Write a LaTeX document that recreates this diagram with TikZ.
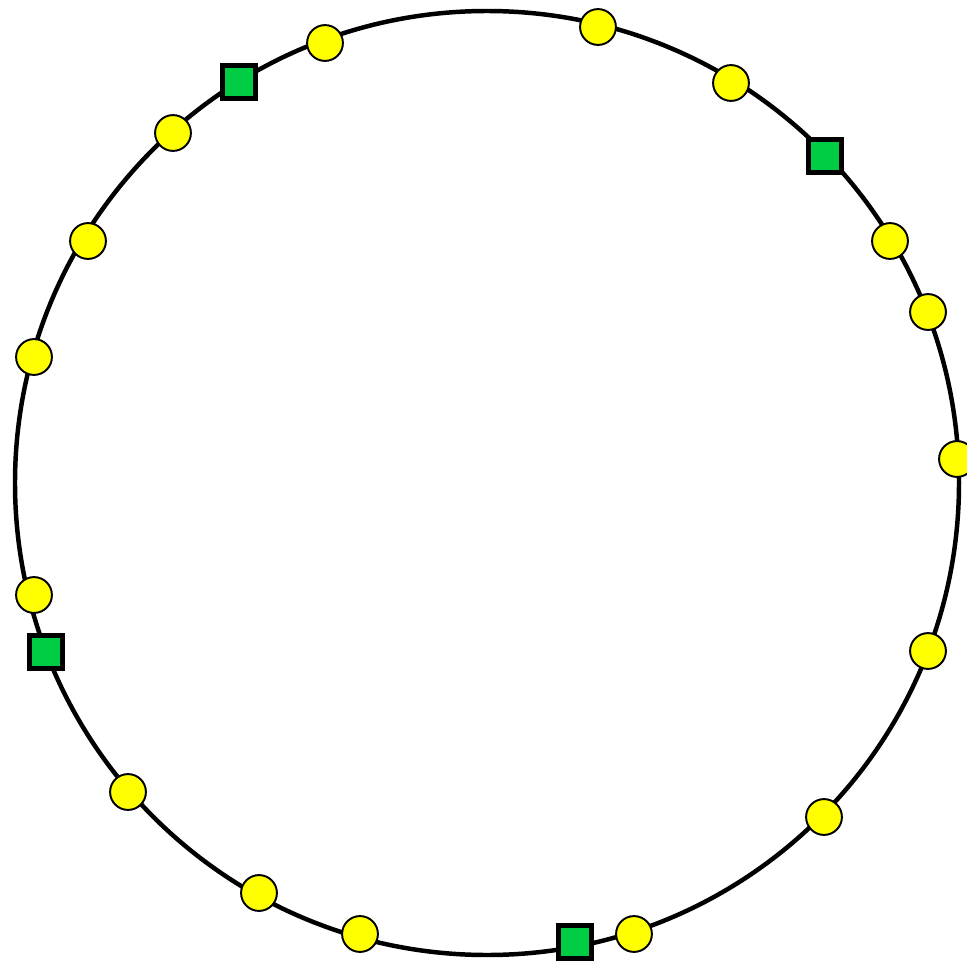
\documentclass[tikz,border=0pt]{standalone}
\usepackage{tikz}
\usepackage{xcolor}
\usetikzlibrary{arrows.meta,calc}
\definecolor{dotyellow}{HTML}{FFFF00}
\definecolor{boxgreen}{HTML}{00CC44}
\tikzset{
  dot/.style={circle,draw=black,fill=dotyellow,line width=1.1pt,minimum size=20.4pt,inner sep=0pt},
  box/.style={rectangle,draw=black,fill=boxgreen,line width=2.8pt,minimum size=18.7pt,inner sep=0pt}
}
\begin{document}
\begin{tikzpicture}[x=0.02cm,y=-0.02cm]
\useasboundingbox (0,0) rectangle (967,963);
\coordinate (O) at (487,483);
\draw[line width=2.55pt] (O) circle (472);
\node[dot] (p1) at (325,43) {};
\node[dot] (p2) at (598,27) {};
\node[dot] (p3) at (731,83) {};
\node[dot] (p4) at (890,241) {};
\node[dot] (p5) at (928,312) {};
\node[dot] (p6) at (957,459) {};
\node[dot] (p7) at (928,651) {};
\node[dot] (p8) at (824,817) {};
\node[dot] (p9) at (634,934) {};
\node[dot] (p10) at (360,934) {};
\node[dot] (p11) at (259,893) {};
\node[dot] (p12) at (128,792) {};
\node[dot] (p13) at (34,595) {};
\node[dot] (p14) at (34,357) {};
\node[dot] (p15) at (88,241) {};
\node[dot] (p16) at (173,133) {};
\node[box] (s1) at (239,82) {};
\node[box] (s2) at (825,156) {};
\node[box] (s3) at (46,652) {};
\node[box] (s4) at (575,942) {};
\end{tikzpicture}
\end{document}
